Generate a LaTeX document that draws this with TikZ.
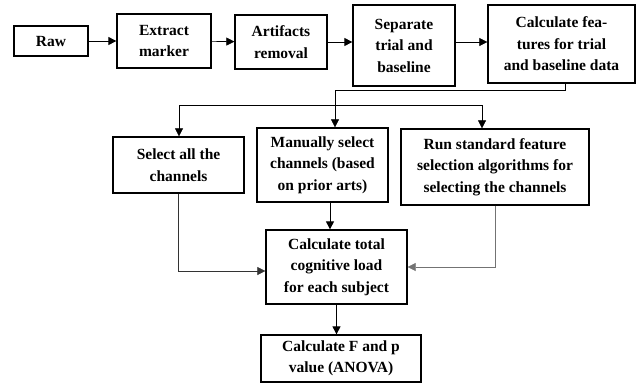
\documentclass[tikz,border=0pt]{standalone}
\usepackage{fontspec}
\setmainfont{Liberation Serif}
\usetikzlibrary{arrows.meta}
\tikzset{
  stepbox/.style={draw, line width=1.3pt, align=center, inner sep=1pt,
    font=\bfseries\fontsize{15.5}{21.5}\selectfont},
  link/.style={-{Triangle[length=8pt,width=8pt]}, line width=1pt},
  thinlink/.style={-{Triangle[length=8pt,width=8pt]}, line width=0.6pt},
}

\begin{document}
\begin{tikzpicture}[x=1pt,y=-1pt]
  \useasboundingbox[fill=white] (0,0) rectangle (636,383);
  % top row
  \node[stepbox, minimum width=74pt, minimum height=30pt] (raw) at (51,41) {Raw};
  \node[stepbox, minimum width=94pt, minimum height=54pt] (extract) at (164,41) {Extract\\marker};
  \node[stepbox, minimum width=92pt, minimum height=54pt] (artifacts) at (281,42) {Artifacts\\removal};
  \node[stepbox, minimum width=102pt, minimum height=81pt] (separate) at (404,45.5) {Separate\\trial and\\baseline};
  \node[stepbox, minimum width=147pt, minimum height=78pt] (features) at (561.5,44) {Calculate fea-\\tures for trial\\and baseline data};
  % channel selection
  \node[stepbox, minimum width=131pt, minimum height=56pt] (selectall) at (178.5,165) {Select all the\\channels};
  \node[stepbox, minimum width=131pt, minimum height=74pt] (manual) at (322.5,165) {Manually select\\channels (based\\on prior arts)};
  \node[stepbox, minimum width=188pt, minimum height=76pt] (runsel) at (495,167) {Run standard feature\\selection algorithms for\\selecting the channels};
  % results
  \node[stepbox, minimum width=141pt, minimum height=74pt] (total) at (336.5,267) {Calculate total\\cognitive load\\for each subject};
  \node[stepbox, minimum width=160pt, minimum height=47pt] (anova) at (341,358.5) {Calculate F and p\\value (ANOVA)};

  \coordinate (split) at (335,90);
  \coordinate (fanl) at (179,105);
  \coordinate (fanr) at (482,105);

  \draw[link] (raw) -- (extract);
  \draw[thinlink] (extract) -- (artifacts);
  \draw[link] (artifacts.east) -- (artifacts.east -| separate.west);
  \draw[thinlink] (separate.east |- artifacts.east) -- (artifacts.east -| features.west);
  \draw[thinlink] ([xshift=3.5pt]features.south) |- (split) -- (split |- manual.north);
  \draw[thinlink] (fanl) -- (fanr) -- (fanr |- runsel.north);
  \draw[thinlink] (fanl) -- (fanl |- selectall.north);
  \draw[link] ([xshift=7.5pt]manual.south) -- ([xshift=7.5pt]manual.south |- total.north);
  \draw[thinlink, black!80] (selectall.south) |- ([yshift=-4pt]total.west);
  \draw[thinlink, black!55] (runsel.south) |- (total.east);
  \draw[link] (total.south) -- (total.south |- anova.north);
\end{tikzpicture}
\end{document}
